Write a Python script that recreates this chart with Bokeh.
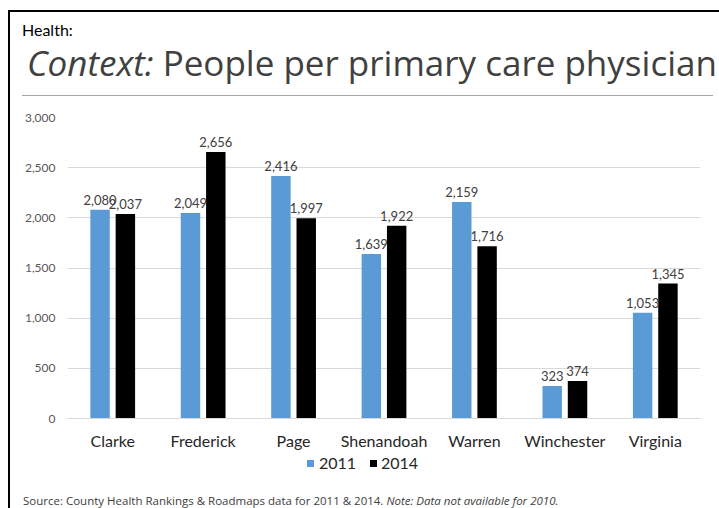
from bokeh.plotting import figure
from bokeh.models import ColumnDataSource, FixedTicker, NumeralTickFormatter, Div, Spacer
from bokeh.layouts import column, row
from bokeh.transform import dodge
from bokeh.core.properties import value
from bokeh.embed import file_html
from bokeh.resources import INLINE

categories = ["Clarke", "Frederick", "Page", "Shenandoah", "Warren", "Winchester", "Virginia"]
values_2011 = [2080, 2049, 2416, 1639, 2159, 323, 1053]
values_2014 = [2037, 2656, 1997, 1922, 1716, 374, 1345]
series_names = ["2011", "2014"]
y_ticks = [0, 500, 1000, 1500, 2000, 2500, 3000]

FONT = "Lato"
C2011 = "#5B9BD5"
C2014 = "#000000"
series_colors = [C2011, C2014]

src = ColumnDataSource(dict(
    cat=categories,
    v11=values_2011,
    v14=values_2014,
    l11=[f"{v:,}" for v in values_2011],
    l14=[f"{v:,}" for v in values_2014],
))

p = figure(x_range=categories, y_range=(0, 3000), frame_width=633, frame_height=301,
           output_backend="svg", toolbar_location=None,
           min_border_left=57, min_border_right=19, min_border_top=13, min_border_bottom=0)
p.outline_line_color = None
p.background_fill_color = "white"
p.border_fill_color = "white"

BW = 0.215
OFF = 0.14
p.vbar(x=dodge("cat", -OFF, range=p.x_range), top="v11", width=BW, source=src,
       fill_color=C2011, line_color=None)
p.vbar(x=dodge("cat", OFF, range=p.x_range), top="v14", width=BW, source=src,
       fill_color=C2014, line_color=None)

for off, col, ycol in ((-OFF, "l11", "v11"), (OFF, "l14", "v14")):
    p.text(x=dodge("cat", off, range=p.x_range), y=ycol, text=col, source=src,
           text_align="center", text_baseline="bottom", y_offset=-5,
           text_font=value(FONT), text_font_size="13px", text_color="#404040")

p.yaxis.ticker = FixedTicker(ticks=y_ticks)
p.yaxis.formatter = NumeralTickFormatter(format="0,0")
p.yaxis.axis_line_color = None
p.yaxis.major_tick_line_color = None
p.yaxis.minor_tick_line_color = None
p.yaxis.major_tick_out = 0
p.yaxis.major_tick_in = 0
p.yaxis.minor_tick_out = 0
p.yaxis.major_label_standoff = 12
p.yaxis.major_label_text_font = FONT
p.yaxis.major_label_text_font_size = "12px"
p.yaxis.major_label_text_color = "#595959"

p.xaxis.axis_line_color = "#d9d9d9"
p.xaxis.major_tick_line_color = None
p.xaxis.minor_tick_line_color = None
p.xaxis.major_tick_out = 0
p.xaxis.major_tick_in = 0
p.xaxis.minor_tick_out = 0
p.xaxis.major_label_standoff = 12
p.xaxis.major_label_text_font = FONT
p.xaxis.major_label_text_font_size = "16px"
p.xaxis.major_label_text_color = "#262626"

p.xgrid.grid_line_color = None
p.ygrid.grid_line_color = "#d9d9d9"

header_html = (
    '<div style="position:relative;width:709px;height:92px;">'
    '<div style="position:absolute;left:12px;top:8px;font-family:Lato;font-size:16px;'
    'line-height:20px;color:#000;">Health:</div>'
    '<div style="position:absolute;left:17px;top:31px;font-family:\'Open Sans\';font-size:35px;'
    'line-height:40px;color:#404040;white-space:nowrap;">'
    '<i>Context:</i> People per primary care physician</div>'
    '<div style="position:absolute;left:12px;top:83px;width:691px;height:0;'
    'border-top:1.5px solid #a6a6a6;"></div>'
    '</div>'
)

legend_html = (
    f'<div style="position:absolute;left:297px;top:8px;width:7px;height:7px;background:{series_colors[0]};"></div>'
    f'<div style="position:absolute;left:309px;top:1px;font-family:Lato;font-size:16px;line-height:20px;color:#262626;">{series_names[0]}</div>'
    f'<div style="position:absolute;left:360px;top:8px;width:7px;height:7px;background:{series_colors[1]};"></div>'
    f'<div style="position:absolute;left:371px;top:1px;font-family:Lato;font-size:16px;line-height:20px;color:#262626;">{series_names[1]}</div>'
)
footer_html = (
    '<div style="position:relative;width:709px;height:56px;">'
    + legend_html +
    '<div style="position:absolute;left:13px;top:42px;font-family:\'Open Sans\';font-size:11.5px;'
    'line-height:14px;color:#404040;white-space:nowrap;">'
    'Source: County Health Rankings &amp; Roadmaps data for 2011 &amp; 2014. '
    '<i>Note: Data not available for 2010.</i></div>'
    '</div>'
)

header = Div(text=header_html, width=709, height=92, margin=0, styles={"overflow": "hidden"})
footer = Div(text=footer_html, width=709, height=56, margin=0, styles={"overflow": "hidden"})

top_line = Div(text="", width=711, height=2, margin=0, styles={"background-color": "#000"})
left_line = Div(text="", width=2, height=496, margin=0, styles={"background-color": "#000"})

inner = column(header, p, footer)
body = row(Spacer(width=8, height=496), left_line, inner)
root = column(Spacer(width=719, height=10),
              row(Spacer(width=8, height=2), top_line),
              body)

open("out.html", "w").write(file_html(root, INLINE))
